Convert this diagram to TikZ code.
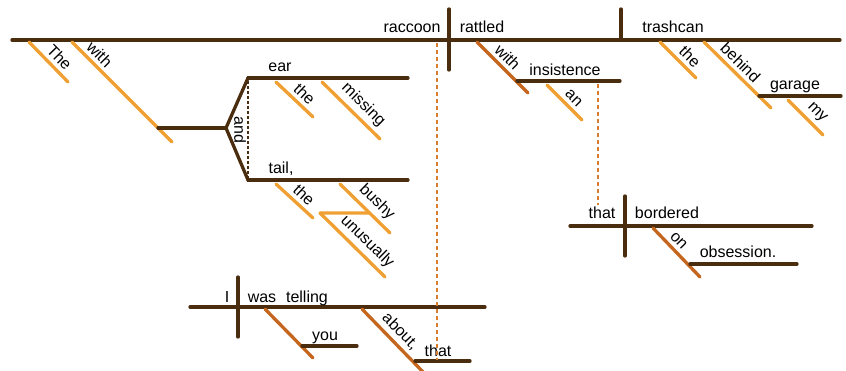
\documentclass[tikz,border=0pt]{standalone}
\usepackage{fontspec}
\setmainfont{Liberation Sans}
\usetikzlibrary{calc}

\definecolor{dkbrown}{RGB}{74,44,14}
\definecolor{ltorange}{RGB}{240,160,50}
\definecolor{rust}{RGB}{196,102,30}
\definecolor{dashorange}{RGB}{215,125,45}

\tikzset{
  base/.style={draw=dkbrown, line width=3.3pt, line cap=round},
  modline/.style={draw=ltorange, line width=3.3pt, line cap=round},
  rustline/.style={draw=rust, line width=3.3pt, line cap=round},
  link/.style={draw=dashorange, line width=1.3pt, dash pattern=on 4pt off 3pt},
  word/.style={font=\fontsize{16}{19}\selectfont, anchor=base, inner sep=0pt},
  slant/.style={font=\fontsize{16}{19}\selectfont, sloped, above, inner sep=3.5pt}
}

\begin{document}
\begin{tikzpicture}[x=1pt,y=-1pt]
\useasboundingbox (0,0) rectangle (846,371);

% main clause: raccoon | rattled | trashcan
\coordinate (mainL) at (12,40);
\coordinate (mainR) at (840,40);
\coordinate (subjT) at (449,9);
\coordinate (subjB) at (449,70);
\coordinate (objT) at (621,9);
\coordinate (objB) at (621,40);
\draw[base] (mainL) -- (mainR);
\draw[base] (subjT) -- (subjB);
\draw[base] (objT) -- (objB);
\node[word] (wRaccoon) at (412,33) {raccoon};
\node[word] (wRattled) at (482,33) {rattled};
\node[word] (wTrashcan) at (673,33) {trashcan};

% The, with
\coordinate (theA) at (29,42);
\coordinate (theB) at (68,82);
\draw[modline] (theA) -- node[slant,pos=0.58] (wThe) {The} (theB);
\coordinate (withA) at (72,42);
\coordinate (withB) at (172,142);
\draw[modline] (withA) -- node[slant,pos=0.2] (wWith) {with} (withB);

% compound object: ear and tail
\coordinate (stemL) at (158,128);
\coordinate (fork) at (226,128);
\coordinate (earL) at (248,78);
\coordinate (earR) at (408,78);
\coordinate (tailL) at (248,180);
\coordinate (tailR) at (408,180);
\draw[base] (stemL) -- (fork);
\draw[base] (earL) -- (fork) -- (tailL);
\draw[base] (earL) -- (earR);
\draw[base] (tailL) -- (tailR);
\draw[draw=dkbrown, line width=1.2pt, dash pattern=on 3pt off 2pt] ([yshift=2pt]earL) -- ([yshift=-2pt]tailL);
\node[word, anchor=center, rotate=-90] (wAnd) at (240,130) {and};
\node[word] (wEar) at (280,72) {ear};
\node[word] (wTail) at (281,174) {tail,};

% modifiers of ear
\coordinate (the2A) at (276,82);
\coordinate (the2B) at (313,117);
\draw[modline] (the2A) -- node[slant,pos=0.57] (wThe2) {the} (the2B);
\coordinate (missA) at (322,82);
\coordinate (missB) at (380,139);
\draw[modline] (missA) -- node[slant,pos=0.56] (wMissing) {missing} (missB);

% modifiers of tail
\coordinate (the3A) at (276,184);
\coordinate (the3B) at (313,218);
\draw[modline] (the3A) -- node[slant,pos=0.56] (wThe3) {the} (the3B);
\coordinate (bushA) at (340,184);
\coordinate (bushB) at (390,233);
\draw[modline] (bushA) -- node[slant,pos=0.56] (wBushy) {bushy} (bushB);
% unusually hangs off bushy
\coordinate (bushJoin) at ($(bushA)!0.59!(bushB)$);
\coordinate (unuA) at (320,213);
\coordinate (unuB) at (385,277);
\draw[modline] (bushJoin) -- (unuA);
\draw[modline] (unuA) -- node[slant,pos=0.59] (wUnusually) {unusually} (unuB);

% with insistence
\coordinate (with2A) at (477,42);
\coordinate (with2B) at (528,93);
\draw[rustline] (with2A) -- node[slant,pos=0.45] (wWith2) {with} (with2B);
\coordinate (insL) at (517,81);
\coordinate (insR) at (620,81);
\draw[base] (insL) -- (insR);
\node[word] (wInsistence) at (565,76) {insistence};
\coordinate (anA) at (547,85);
\coordinate (anB) at (582,120);
\draw[modline] (anA) -- node[slant,pos=0.57] (wAn) {an} (anB);

% the, behind garage, my
\coordinate (the4A) at (660,42);
\coordinate (the4B) at (696,78);
\draw[modline] (the4A) -- node[slant,pos=0.62] (wThe4) {the} (the4B);
\coordinate (behA) at (704,42);
\coordinate (behB) at (771,108);
\draw[modline] (behA) -- node[slant,pos=0.43] (wBehind) {behind} (behB);
\coordinate (garL) at (759,96);
\coordinate (garR) at (841,96);
\draw[base] (garL) -- (garR);
\node[word] (wGarage) at (795,90) {garage};
\coordinate (myA) at (788,100);
\coordinate (myB) at (823,135);
\draw[modline] (myA) -- node[slant,pos=0.6] (wMy) {my} (myB);

% relative clause: that bordered on obsession.
\coordinate (relL) at (570,226);
\coordinate (relR) at (812,226);
\coordinate (relT) at (625,196);
\coordinate (relB) at (625,256);
\draw[base] (relL) -- (relR);
\draw[base] (relT) -- (relB);
\node[word] (wThat) at (602,219) {that};
\node[word] (wBordered) at (667,219) {bordered};
\coordinate (onA) at (653,228);
\coordinate (onB) at (700,277);
\draw[rustline] (onA) -- node[slant,pos=0.4] (wOn) {on} (onB);
\coordinate (obsL) at (690,264);
\coordinate (obsR) at (797,264);
\draw[base] (obsL) -- (obsR);
\node[word] (wObsession) at (738,258) {obsession.};
\coordinate (insDash) at (598,84);
\coordinate (relDash) at (598,205);
\draw[link] (insDash) -- (relDash);

% relative clause: I was telling you about, that
\coordinate (botL) at (190,307);
\coordinate (botR) at (485,307);
\coordinate (botT) at (238,277);
\coordinate (botB) at (238,337);
\draw[base] (botL) -- (botR);
\draw[base] (botT) -- (botB);
\node[word] (wI) at (227,302) {I};
\node[word] (wWas) at (262,302) {was};
\node[word] (wTelling) at (307,302) {telling};
\coordinate (youA) at (265,309);
\coordinate (youB) at (313,358);
\draw[rustline] (youA) -- (youB);
\coordinate (youL) at (302,346);
\coordinate (youR) at (357,346);
\draw[base] (youL) -- (youR);
\node[word] (wYou) at (325,341) {you};
\coordinate (aboutA) at (362,309);
\coordinate (aboutB) at (424,373);
\draw[rustline] (aboutA) -- node[slant,pos=0.48] (wAbout) {about,} (aboutB);
\coordinate (thatL) at (415,361);
\coordinate (thatR) at (470,361);
\draw[base] (thatL) -- (thatR);
\node[word] (wThat2) at (438,356) {that};
% raccoon ... that
\coordinate (racDash) at (437,43);
\coordinate (thatDash) at (437,360);
\draw[link] (racDash) -- (thatDash);

\end{tikzpicture}
\end{document}
